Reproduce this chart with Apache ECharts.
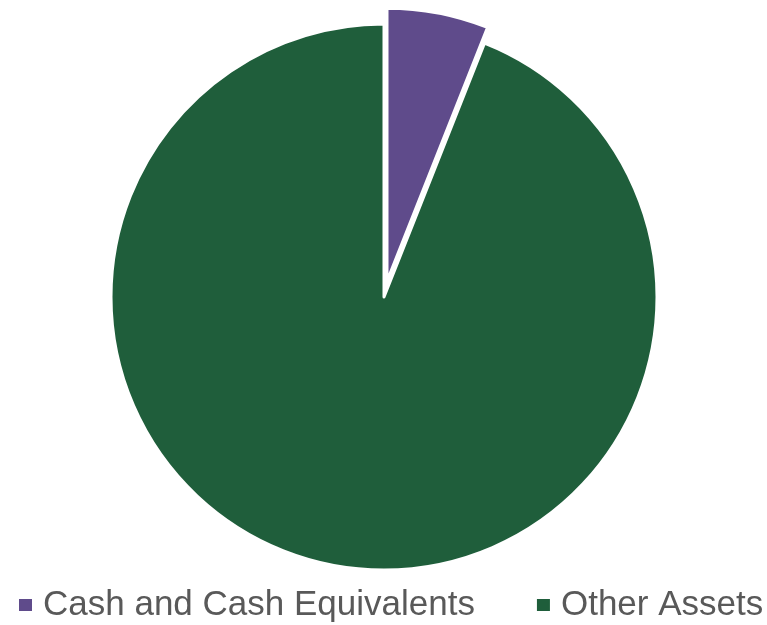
<!DOCTYPE html>
<html><head><meta charset="utf-8">
<script src="https://cdn.jsdelivr.net/npm/echarts@6/dist/echarts.min.js"></script>
<style>html,body{margin:0;padding:0;background:#fff}#c{width:767px;height:625px}</style>
</head><body><div id="c"></div>
<script>
const categories = ["Cash and Cash Equivalents", "Other Assets"];
const values = [6, 94];
const colors = ["#5F4B8B", "#1F5E3B"];

const chart = echarts.init(document.getElementById('c'), null, {renderer: 'canvas'});
chart.setOption({
  animation: false,
  legend: {
    data: categories,
    left: 17,
    top: 585,
    padding: 0,
    icon: 'rect',
    itemWidth: 15,
    itemHeight: 14,
    itemGap: 60,
    selectedMode: false,
    textStyle: {
      fontFamily: 'Liberation Sans, Arial, sans-serif',
      fontSize: 35,
      color: '#595959',
      lineHeight: 40,
      padding: [0, 0, 0, 5]
    }
  },
  series: [{
    type: 'pie',
    center: [384, 297],
    radius: 273,
    startAngle: 90,
    clockwise: true,
    selectedMode: 'single',
    selectedOffset: 16,
    label: {show: false},
    labelLine: {show: false},
    emphasis: {disabled: true},
    itemStyle: {borderColor: '#ffffff', borderWidth: 3},
    data: categories.map((n, i) => ({
      name: n, value: values[i], selected: i === 0,
      itemStyle: {color: colors[i]}
    }))
  }]
});
</script></body></html>
